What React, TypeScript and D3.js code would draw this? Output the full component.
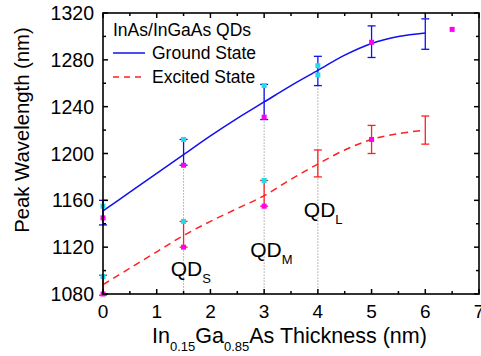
import React from 'react';
import * as d3 from 'd3';

const xTicks = [0, 1, 2, 3, 4, 5, 6, 7];
const xMinor = [0.5, 1.5, 2.5, 3.5, 4.5, 5.5, 6.5];
const yTicks = [1080, 1120, 1160, 1200, 1240, 1280, 1320];
const yMinor = [1100, 1140, 1180, 1220, 1260, 1300];

const fitX = [0, 0.5, 1, 1.5, 2, 2.5, 3, 3.5, 4, 4.5, 5, 5.5, 6];
const groundFit = [1151, 1167, 1183, 1199, 1215, 1230, 1244, 1258, 1271, 1284, 1294, 1300, 1303];
const excitedFit = [1088, 1102, 1116, 1130, 1142, 1153, 1164, 1178, 1191, 1203, 1212, 1217, 1220];

// error bars: [x, low, high]
const groundBars: [number, number, number][] = [
  [0, 1139, 1160], [1.5, 1190, 1212], [3, 1229, 1259], [4, 1258, 1283], [5, 1282, 1309], [6, 1289, 1315],
];
const excitedBars: [number, number, number][] = [
  [0, 1079, 1096], [1.5, 1120, 1142], [3, 1155, 1177], [4, 1180, 1203], [5, 1200, 1224], [6, 1208, 1232],
];

const cyanPoints: [number, number][] = [
  [0, 1155], [0, 1095], [1.5, 1212], [1.5, 1142], [3, 1258], [3, 1177], [4, 1275], [4, 1267],
];
const magentaPoints: [number, number][] = [
  [0, 1145], [0, 1080], [1.5, 1190], [1.5, 1120], [3, 1231], [3, 1155], [5, 1295], [5, 1212], [6.5, 1306],
];

const qdLines: [number, number][] = [[1.5, 1212], [3, 1258], [4, 1258]];
const qdLabels: [number, number, string][] = [[1.52, 1095, 'S'], [3.0, 1112, 'M'], [4.0, 1146, 'L']];

const FONT = 'Liberation Sans, Arial, sans-serif';

export default function App() {
  const W = 481, H = 356;
  const x = d3.scaleLinear().domain([0, 7]).range([103, 479]);
  const y = d3.scaleLinear().domain([1080, 1320]).range([294, 13]);
  const line = d3.line<[number, number]>().x(d => x(d[0])).y(d => y(d[1])).curve(d3.curveCatmullRom);
  const gPath = line(fitX.map((v, i) => [v, groundFit[i]]) as [number, number][]) || '';
  const ePath = line(fitX.map((v, i) => [v, excitedFit[i]]) as [number, number][]) || '';
  const blue = '#1010f0';
  const red = '#ff2020';
  const cyan = '#20dce8';
  const magenta = '#ff00ee';
  const x0 = x(0), x1 = x(7), yB = y(1080), yT = y(1320);
  const ms = 5;

  const bars = (data: [number, number, number][], color: string) =>
    data.map(([bx, lo, hi], i) => (
      <g key={i} stroke={color} strokeWidth={1.3}>
        <line x1={x(bx)} x2={x(bx)} y1={y(lo)} y2={y(hi)} />
        <line x1={x(bx) - 4} x2={x(bx) + 4} y1={y(lo)} y2={y(lo)} />
        <line x1={x(bx) - 4} x2={x(bx) + 4} y1={y(hi)} y2={y(hi)} />
      </g>
    ));

  return (
    <svg width={W} height={H} style={{ position: 'absolute', left: 0, top: 0, background: '#fff' }} fontFamily={FONT}>
      <rect width={W} height={H} fill="#fff" />
      {qdLines.map(([qx, qy], i) => (
        <line key={i} x1={x(qx)} x2={x(qx)} y1={y(qy)} y2={yB} stroke="#777" strokeWidth={1} strokeDasharray="1,2" />
      ))}
      <path d={gPath} fill="none" stroke={blue} strokeWidth={1.5} />
      <path d={ePath} fill="none" stroke={red} strokeWidth={1.5} strokeDasharray="7,5" />
      {bars(groundBars, blue)}
      {bars(excitedBars, red)}
      {cyanPoints.map(([px, py], i) => (
        <rect key={'c' + i} x={x(px) - ms / 2} y={y(py) - ms / 2} width={ms} height={ms} fill={cyan} />
      ))}
      {magentaPoints.map(([px, py], i) => (
        <rect key={'m' + i} x={x(px) - ms / 2} y={y(py) - ms / 2} width={ms} height={ms} fill={magenta} />
      ))}
      {/* frame */}
      <rect x={x0} y={yT} width={x1 - x0} height={yB - yT} fill="none" stroke="#000" strokeWidth={1.6} />
      {xTicks.map(t => (
        <g key={'xt' + t} stroke="#000" strokeWidth={1.5}>
          <line x1={x(t)} x2={x(t)} y1={yB} y2={yB - 5} />
          <line x1={x(t)} x2={x(t)} y1={yT} y2={yT + 5} />
        </g>
      ))}
      {xMinor.map(t => (
        <g key={'xm' + t} stroke="#000" strokeWidth={1.5}>
          <line x1={x(t)} x2={x(t)} y1={yB} y2={yB - 3} />
          <line x1={x(t)} x2={x(t)} y1={yT} y2={yT + 3} />
        </g>
      ))}
      {yTicks.map(t => (
        <g key={'yt' + t} stroke="#000" strokeWidth={1.5}>
          <line x1={x0} x2={x0 + 5} y1={y(t)} y2={y(t)} />
          <line x1={x1} x2={x1 - 5} y1={y(t)} y2={y(t)} />
        </g>
      ))}
      {yMinor.map(t => (
        <g key={'ym' + t} stroke="#000" strokeWidth={1.5}>
          <line x1={x0} x2={x0 + 3} y1={y(t)} y2={y(t)} />
          <line x1={x1} x2={x1 - 3} y1={y(t)} y2={y(t)} />
        </g>
      ))}
      {xTicks.map(t => (
        <text key={'xl' + t} x={x(t)} y={318} fontSize={19} textAnchor="middle" fill="#000">{t}</text>
      ))}
      {yTicks.map(t => (
        <text key={'yl' + t} x={94} y={y(t) + 7} fontSize={19.5} textAnchor="end" fill="#000">{t}</text>
      ))}
      {/* axis titles */}
      <text x={152} y={343} fontSize={21.5} fill="#000">
        In<tspan fontSize={13} dy={8}>0.15</tspan><tspan dy={-8}>Ga</tspan><tspan fontSize={13} dy={8}>0.85</tspan><tspan dy={-8}>As Thickness (nm)</tspan>
      </text>
      <text transform="translate(29,130) rotate(-90)" fontSize={20.3} textAnchor="middle" fill="#000">Peak Wavelength (nm)</text>
      {/* QD labels */}
      {qdLabels.map(([lx, ly, s], i) => (
        <text key={'qd' + i} x={x(lx) - 14} y={y(ly)} fontSize={21} fill="#000">
          QD<tspan fontSize={13} dy={7}>{s}</tspan>
        </text>
      ))}
      {/* legend */}
      <text x={113} y={36} fontSize={17.5} fill="#000">InAs/InGaAs QDs</text>
      <line x1={113} x2={145} y1={53} y2={53} stroke={blue} strokeWidth={1.5} />
      <text x={152} y={59} fontSize={17.5} fill="#000">Ground State</text>
      <line x1={113} x2={145} y1={77} y2={77} stroke={red} strokeWidth={1.5} strokeDasharray="6,5" />
      <text x={152} y={83} fontSize={17.5} fill="#000">Excited State</text>
    </svg>
  );
}
